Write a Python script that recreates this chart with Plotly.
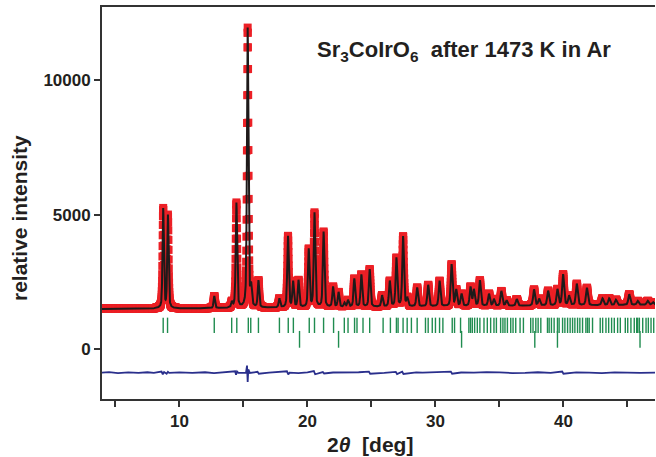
import numpy as np
import plotly.graph_objects as go

# ---------------- data ----------------
# reflections of the profile: 2theta position [deg], peak height above background
peak_pos = [8.73, 9.10, 12.72, 14.10, 14.45, 15.33, 15.60, 16.17, 17.81, 18.48,
            18.88, 19.30, 20.10, 20.55, 21.26, 22.00, 22.43, 22.90, 23.17, 23.66,
            24.21, 24.86, 25.83, 26.43, 26.95, 27.47, 27.80, 28.57, 29.43, 30.32,
            31.26, 31.62, 32.04, 32.74, 33.00, 33.47, 34.18, 34.57, 35.15, 35.56,
            36.35, 37.70, 38.10, 38.80, 39.53, 39.97, 40.44, 41.04, 41.83, 43.05,
            43.57, 44.10, 45.14, 45.80, 46.58, 47.00]
peak_amp = [3700, 3450, 450, 200, 3900, 10400, 700, 1000, 330, 2650,
            950, 1000, 2150, 3500, 2800, 750, 550, 150, 250, 1050,
            1200, 1400, 420, 950, 1800, 2600, 300, 700, 800, 950,
            1550, 600, 450, 700, 600, 950, 450, 250, 550, 200,
            250, 600, 250, 550, 600, 1150, 350, 800, 650, 250,
            250, 200, 400, 150, 150, 100]
# background anchors (2theta, intensity)
bg_pos = [3.9, 15.0, 30.0, 47.2]
bg_val = [1490, 1520, 1580, 1640]

# Bragg reflection markers
bragg1 = [8.73, 9.07, 12.72, 14.08, 14.48, 15.38, 15.57, 16.17, 17.81, 18.50,
          18.90, 20.14, 20.55, 21.26, 22.04, 22.88, 23.17, 23.68, 23.87, 24.34,
          24.86, 25.91, 26.48, 26.95, 27.08, 27.47, 27.79, 28.12, 28.57, 29.22,
          29.43, 29.75, 30.00, 30.32, 30.58, 31.31, 31.49, 31.96, 32.61, 32.74,
          32.88, 33.06, 33.27, 33.47, 33.79, 34.05, 34.31, 34.57, 34.76, 35.09,
          35.27, 35.43, 35.62, 35.88, 36.06, 36.27, 36.61, 36.87, 37.44, 37.62,
          37.84, 38.02, 38.23, 38.75, 38.88, 39.06, 39.27, 39.53, 39.66, 39.93,
          40.11, 40.32, 40.52, 40.71, 40.89, 41.10, 41.28, 41.49, 41.75, 41.88,
          42.01, 42.27, 42.87, 43.06, 43.32, 43.53, 43.76, 43.97, 44.23, 44.44,
          44.83, 45.02, 45.27, 45.53, 45.72, 45.80, 45.93, 46.19, 46.45, 46.63,
          46.84, 47.05]
bragg2 = [19.38, 22.43, 32.04, 37.76, 39.53, 45.98]

# difference curve (obs - calc, shifted)
diff_x = [3.9, 4.5, 5.2, 6.0, 6.8, 7.5, 8.0, 8.6, 8.7, 8.8, 9.0, 9.1, 9.2, 10.0, 11.0,
          12.0, 12.7, 13.5, 14.35, 14.42, 14.5, 14.6, 15.2, 15.28, 15.33, 15.38, 15.5,
          16.1, 16.2, 17.0, 17.8, 18.4, 18.5, 18.6, 19.3, 20.0, 20.5, 20.6, 21.2, 21.3,
          22.0, 23.0, 24.0, 24.8, 24.9, 26.0, 26.9, 27.0, 27.4, 27.5, 28.5, 29.0, 30.0,
          31.2, 31.3, 32.0, 33.0, 34.0, 35.0, 36.0, 37.0, 38.0, 39.0, 39.9, 40.0, 41.0,
          42.0, 43.0, 44.0, 45.0, 46.0, 47.2]
diff_y = [-880, -860, -895, -870, -890, -865, -890, -840, -940, -860, -920, -850, -890,
          -870, -885, -865, -900, -870, -830, -960, -840, -890, -880, -620, -1230, -760,
          -890, -850, -920, -880, -860, -830, -950, -880, -900, -870, -820, -940, -860,
          -910, -875, -880, -865, -840, -920, -890, -850, -930, -840, -930, -870, -880,
          -865, -840, -920, -875, -880, -860, -870, -895, -890, -865, -885, -840, -920,
          -870, -880, -895, -870, -885, -890, -880]

# ---------------- profile built from the read reflections ----------------
tt = np.arange(3.95, 47.2, 0.01)
bg = np.interp(tt, bg_pos, bg_val)
calc = bg.copy()
for p, a in zip(peak_pos, peak_amp):
    w = 0.11 + 0.0015 * p
    d = (tt - p) / w
    g = np.exp(-4 * np.log(2) * d ** 2)
    l = 1.0 / (1.0 + 4 * d ** 2)
    calc += a * (0.55 * g + 0.45 * l)
obs = calc

FONT = "Liberation Sans, Arial, sans-serif"
AX = "#333333"

fig = go.Figure()
fig.add_trace(go.Scatter(x=tt, y=obs, mode="markers",
                         marker=dict(symbol="square", size=8, color="rgb(236,32,38)",
                                     line=dict(width=0)),
                         showlegend=False))
fig.add_trace(go.Scatter(x=tt, y=calc, mode="lines",
                         line=dict(color="#1e1a1a", width=2), showlegend=False))
fig.add_trace(go.Scatter(x=bragg1, y=[880] * len(bragg1), mode="markers",
                         marker=dict(symbol="line-ns", size=11,
                                     line=dict(color="rgb(32,140,80)", width=1.4)),
                         showlegend=False))
fig.add_trace(go.Scatter(x=bragg2, y=[360] * len(bragg2), mode="markers",
                         marker=dict(symbol="line-ns", size=12,
                                     line=dict(color="rgb(32,140,80)", width=1.4)),
                         showlegend=False))
fig.add_trace(go.Scatter(x=diff_x, y=diff_y, mode="lines",
                         line=dict(color="#2a2f8c", width=1.8), showlegend=False))

L, R, T, B = 102, 1, 7, 58
W, H = 656, 457
pw, ph = W - L - R, H - T - B


def px(x):
    return (x - L) / pw


def py(y):
    return (H - B - y) / ph


fig.update_layout(
    width=W, height=H,
    margin=dict(l=L, r=R, t=T, b=B),
    plot_bgcolor="white", paper_bgcolor="white",
    font=dict(family=FONT, color="#231f20"),
    xaxis=dict(range=[3.95, 47.15], tick0=0, dtick=10,
               ticks="outside", ticklen=6, tickwidth=1.5, tickcolor=AX,
               minor=dict(dtick=5, tick0=0, ticks="outside", ticklen=6,
                          tickwidth=1.5, tickcolor=AX, showgrid=False),
               showline=True, linecolor=AX, linewidth=1.8, mirror=True,
               showgrid=False, zeroline=False,
               tickfont=dict(size=17, family=FONT, weight="bold")),
    yaxis=dict(range=[-1860, 12720], tickvals=[0, 5000, 10000], tickformat="d",
               ticks="outside", ticklen=6, tickwidth=1.5, tickcolor=AX,
               showline=True, linecolor=AX, linewidth=1.8,
               showgrid=False, zeroline=False,
               tickfont=dict(size=17, family=FONT, weight="bold")),
    annotations=[
        dict(text="relative intensity", xref="paper", yref="paper",
             x=px(20), y=py(218), textangle=-90, showarrow=False,
             font=dict(size=21, family=FONT, weight="bold"),
             xanchor="center", yanchor="middle"),
        dict(text="2<i>θ</i>  [deg]", xref="paper", yref="paper",
             x=px(370), y=py(444), showarrow=False,
             font=dict(size=21, family=FONT, weight="bold"),
             xanchor="center", yanchor="middle"),
        dict(text="Sr<sub>3</sub>CoIrO<sub>6</sub>  after 1473 K in Ar",
             xref="paper", yref="paper", x=px(315), y=py(51), showarrow=False,
             font=dict(size=22, family=FONT, weight="bold"),
             xanchor="left", yanchor="middle"),
    ],
)

fig.write_html("out.html")
